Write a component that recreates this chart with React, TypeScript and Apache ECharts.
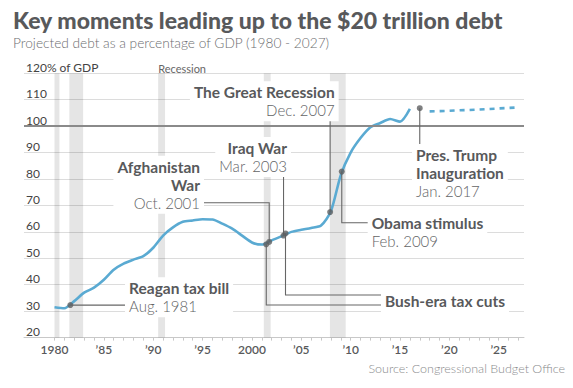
import React, { useEffect, useRef } from "react";
import * as echarts from "echarts";

// ---- Data ----
const debtYears = [1980, 1981, 1982, 1983, 1984, 1985, 1986, 1987, 1988, 1989, 1990, 1991, 1992, 1993, 1994, 1995, 1996, 1997, 1998, 1999, 2000, 2001, 2002, 2003, 2004, 2005, 2006, 2007, 2008, 2009, 2010, 2011, 2012, 2013, 2014, 2015, 2016];
const debtValues = [31.5, 31.1, 33.8, 37.0, 38.9, 41.9, 45.7, 48.0, 49.5, 50.8, 54.0, 58.6, 61.7, 63.8, 64.3, 64.8, 64.7, 63.1, 61.2, 58.6, 56.0, 55.2, 56.8, 58.3, 60.0, 60.8, 61.5, 62.4, 67.8, 81.5, 90.0, 95.5, 99.6, 101.2, 102.7, 101.7, 106.5];
const projYears = [2018, 2019, 2020, 2021, 2022, 2023, 2024, 2025, 2026, 2027];
const projValues = [105.6, 105.7, 105.8, 106.0, 106.1, 106.3, 106.5, 106.7, 106.9, 107.1];

const recessionStarts = [1980.0, 1981.5, 1990.5, 2001.2, 2007.9];
const recessionEnds = [1980.5, 1982.9, 1991.2, 2001.9, 2009.5];

const eventYears = [1981.6, 2001.45, 2001.75, 2003.2, 2003.4, 2007.92, 2009.1, 2017.0];
const eventValues = [32.3, 55.3, 56.2, 58.6, 59.4, 67.5, 82.8, 106.8];

const xLabelYears = [1980, 1985, 1990, 1995, 2000, 2005, 2010, 2015, 2020, 2025];
const xTickYears = Array.from({ length: 48 }, (_, i) => 1980 + i);

const TITLE = "Key moments leading up to the $20 trillion debt";
const SUBTITLE = "Projected debt as a percentage of GDP (1980 - 2027)";
const SOURCE = "Source: Congressional Budget Office";

// annotations: text anchored (edge x, first-line centre y) in data space
const annotations = [
  { bold: ["Reagan tax bill"], reg: ["Aug. 1981"], x: 1987.55, y: 38.65, align: "left" },
  { bold: ["Afghanistan", "War"], reg: ["Oct. 2001"], x: 1994.74, y: 84.66, align: "right" },
  { bold: ["Iraq War"], reg: ["Mar. 2003"], x: 2003.55, y: 91.74, align: "right" },
  { bold: ["The Great Recession"], reg: ["Dec. 2007"], x: 2008.38, y: 112.79, align: "right" },
  { bold: ["Pres. Trump", "Inauguration"], reg: ["Jan. 2017"], x: 2016.62, y: 89.09, align: "left" },
  { bold: ["Obama stimulus"], reg: ["Feb. 2009"], x: 2012.13, y: 63.47, align: "left" },
  { bold: ["Bush-era tax cuts"], reg: [], x: 2013.48, y: 33.85, align: "left" },
];

// connector polylines in data space
const connectors: number[][][] = [
  [[1981.6, 32.3], [1987.14, 32.3]],
  [[2001.75, 56.2], [2001.75, 71.04], [1995.14, 71.04]],
  [[2003.2, 58.6], [2003.2, 81.0]],
  [[2007.92, 67.5], [2007.92, 104.0]],
  [[2017.0, 106.8], [2017.0, 91.5]],
  [[2009.1, 82.8], [2009.1, 63.47], [2011.76, 63.47]],
  [[2001.45, 55.3], [2001.45, 32.33], [2013.07, 32.33]],
  [[2003.4, 59.4], [2003.4, 36.12], [2013.07, 36.12]],
];

const FONT = "Lato, 'Open Sans', sans-serif";
const LINE_BLUE = "#5aaad2";

export default function App() {
  const ref = useRef<HTMLDivElement>(null);

  useEffect(() => {
    const chart = echarts.init(ref.current!, null, { renderer: "svg" });
    const option: any = {
      animation: false,
      backgroundColor: "#fff",
      grid: { left: 24, right: 49, top: 73.3, bottom: 50.4 },
      xAxis: {
        type: "value",
        min: 1976.91,
        max: 2027.56,
        splitLine: { show: false },
        axisLine: { show: true, lineStyle: { color: "#c8c8c8", width: 1 } },
        axisTick: { show: true, length: 3, customValues: xTickYears, lineStyle: { color: "#c8c8c8" } },
        axisLabel: {
          customValues: xLabelYears,
          margin: 6,
          fontFamily: FONT,
          fontSize: 12,
          fontWeight: 600,
          color: "#58595b",
          formatter: (v: number) => (v === 1980 || v === 2000 ? String(v) : "\u2019" + String(v).slice(2)),
        },
      },
      yAxis: {
        type: "value",
        min: 20,
        max: 120,
        interval: 10,
        axisLine: { show: false },
        axisTick: { show: false },
        splitLine: { show: true, lineStyle: { color: "#dcdcdc", width: 1 } },
        axisLabel: {
          inside: true,
          margin: 2,
          verticalAlign: "bottom",
          fontFamily: FONT,
          fontSize: 12,
          color: "#444",
          formatter: (v: number) => (v === 120 ? "120% of GDP" : String(v)),
        },
      },
      series: [
        {
          type: "line",
          z: 1,
          silent: true,
          data: debtYears.map((y, i) => [y, debtValues[i]]),
          symbol: "none",
          lineStyle: { opacity: 0 },
          markArea: {
            silent: true,
            itemStyle: { color: "rgba(0,0,0,0.1)" },
            data: recessionStarts.map((s, i) => [{ xAxis: s }, { xAxis: recessionEnds[i] }]),
          },
        },
        {
          type: "line",
          z: 3,
          data: debtYears.map((y, i) => [y, debtValues[i]]),
          symbol: "none",
          smooth: 0.25,
          lineStyle: { color: LINE_BLUE, width: 2.6 },
          markLine: {
            silent: true,
            symbol: "none",
            label: { show: false },
            lineStyle: { color: "#8a8a8a", width: 2, type: "solid" },
            data: [{ yAxis: 100 }],
          },
        },
        {
          type: "line",
          z: 3,
          data: projYears.map((y, i) => [y, projValues[i]]),
          symbol: "none",
          lineStyle: { color: LINE_BLUE, width: 2.6, type: [5, 5] },
        },
        {
          type: "scatter",
          z: 20,
          data: eventYears.map((y, i) => [y, eventValues[i]]),
          symbolSize: 6,
          itemStyle: { color: "#5f6062" },
        },
      ],
    };
    chart.setOption(option);

    const px = (x: number, y: number) => chart.convertToPixel({ gridIndex: 0 }, [x, y]) as number[];
    const graphics: any[] = [];
    graphics.push({
      type: "text", x: 13, y: 20, z: 30,
      style: { text: TITLE, fontFamily: FONT, fontWeight: 900, fontSize: 23, fill: "#58595b", verticalAlign: "middle", align: "left" },
    });
    graphics.push({
      type: "text", x: 13, y: 42, z: 30,
      style: { text: SUBTITLE, fontFamily: FONT, fontWeight: 300, fontSize: 13.7, fill: "#6d6e70", verticalAlign: "middle", align: "left" },
    });
    graphics.push({
      type: "text", x: 565, y: 368, z: 30,
      style: { text: SOURCE, fontFamily: FONT, fontWeight: 300, fontSize: 12.5, fill: "#8a8b8d", verticalAlign: "middle", align: "right" },
    });
    const rp = px(recessionStarts[2], 120);
    graphics.push({
      type: "text", x: rp[0], y: rp[1] - 5, z: 30,
      style: { text: "Recession", fontFamily: FONT, fontSize: 11, fill: "#666", verticalAlign: "middle", align: "left" },
    });

    connectors.forEach((pts) => {
      graphics.push({
        type: "polyline", z: 8, silent: true,
        shape: { points: pts.map(([a, b]) => px(a, b)) },
        style: { stroke: "#666", lineWidth: 1.1, fill: null },
      });
    });

    annotations.forEach((a) => {
      const p = px(a.x, a.y);
      const padX = 4, padY = 2, lh = 18;
      const text = [...a.bold.map((t) => `{b|${t}}`), ...a.reg.map((t) => `{r|${t}}`)].join("\n");
      graphics.push({
        type: "text", z: 10, silent: true,
        x: a.align === "left" ? p[0] - padX : p[0] + padX,
        y: p[1] - padY - lh / 2,
        style: {
          text,
          align: a.align,
          verticalAlign: "top",
          backgroundColor: "#fff",
          padding: [padY, padX, padY, padX],
          rich: {
            b: { fontFamily: FONT, fontWeight: "bold", fontSize: 15.5, lineHeight: lh, fill: "#58595b", align: a.align },
            r: { fontFamily: FONT, fontWeight: 300, fontSize: 15, lineHeight: lh, fill: "#636466", align: a.align },
          },
        },
      });
    });

    chart.setOption({ graphic: { elements: graphics } });
    return () => chart.dispose();
  }, []);

  return <div ref={ref} style={{ position: "fixed", left: 0, top: 0, width: 573, height: 388, background: "#fff" }} />;
}
